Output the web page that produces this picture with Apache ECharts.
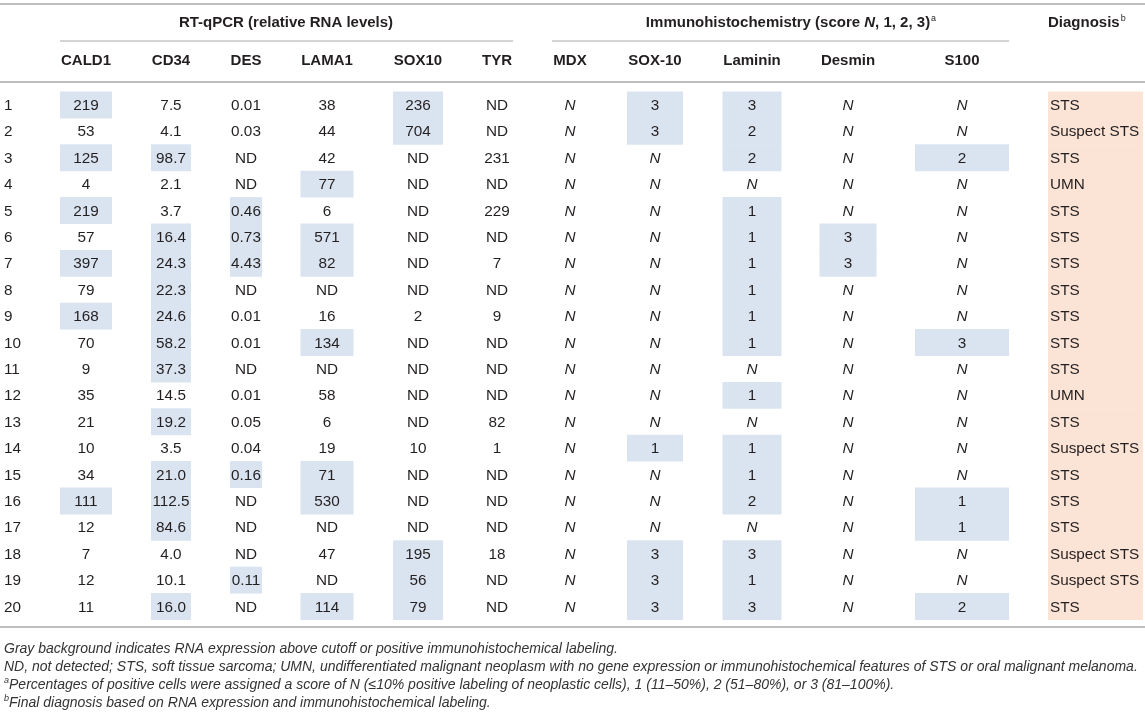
<!DOCTYPE html>
<html>
<head>
<meta charset="utf-8">
<title>RT-qPCR and immunohistochemistry table</title>
<script src="https://cdn.jsdelivr.net/npm/echarts@6/dist/echarts.min.js"></script>
<style>
  html, body { margin: 0; padding: 0; background: #fff; }
  #chart { width: 1145px; height: 717px; }
</style>
</head>
<body>
<div id="chart"></div>
<script>
// Case table: RNA levels, IHC scores and final diagnosis per case.

const cases   = ['1','2','3','4','5','6','7','8','9','10','11','12','13','14','15','16','17','18','19','20'];
const cald1   = ['219','53','125','4','219','57','397','79','168','70','9','35','21','10','34','111','12','7','12','11'];
const cd34    = ['7.5','4.1','98.7','2.1','3.7','16.4','24.3','22.3','24.6','58.2','37.3','14.5','19.2','3.5','21.0','112.5','84.6','4.0','10.1','16.0'];
const des     = ['0.01','0.03','ND','ND','0.46','0.73','4.43','ND','0.01','0.01','ND','0.01','0.05','0.04','0.16','ND','ND','ND','0.11','ND'];
const lama1   = ['38','44','42','77','6','571','82','ND','16','134','ND','58','6','19','71','530','ND','47','ND','114'];
const sox10   = ['236','704','ND','ND','ND','ND','ND','ND','2','ND','ND','ND','ND','10','ND','ND','ND','195','56','79'];
const tyr     = ['ND','ND','231','ND','229','ND','7','ND','9','ND','ND','ND','82','1','ND','ND','ND','18','ND','ND'];
const mdx     = ['N','N','N','N','N','N','N','N','N','N','N','N','N','N','N','N','N','N','N','N'];
const ihcSox  = ['3','3','N','N','N','N','N','N','N','N','N','N','N','1','N','N','N','3','3','3'];
const laminin = ['3','2','2','N','1','1','1','1','1','1','N','1','N','1','1','2','N','3','1','3'];
const desmin  = ['N','N','N','N','N','3','3','N','N','N','N','N','N','N','N','N','N','N','N','N'];
const s100    = ['N','N','2','N','N','N','N','N','N','3','N','N','N','N','N','1','1','N','N','2'];
const diagnosis = ['STS','Suspect STS','STS','UMN','STS','STS','STS','STS','STS','STS','STS','UMN','STS','Suspect STS','STS','STS','STS','Suspect STS','Suspect STS','STS'];

// cases with shaded (positive) cells, per column
const hiCald1   = [1, 3, 5, 7, 9, 16];
const hiCd34    = [3, 6, 7, 8, 9, 10, 11, 13, 15, 16, 17, 20];
const hiDes     = [5, 6, 7, 15, 19];
const hiLama1   = [4, 6, 7, 10, 15, 16, 20];
const hiSox10   = [1, 2, 18, 19, 20];
const hiIhcSox  = [1, 2, 14, 18, 19, 20];
const hiLaminin = [1, 2, 3, 5, 6, 7, 8, 9, 10, 12, 14, 15, 16, 18, 19, 20];
const hiDesmin  = [6, 7];
const hiS100    = [3, 10, 16, 17, 20];

const headers = ['', 'CALD1', 'CD34', 'DES', 'LAMA1', 'SOX10', 'TYR', 'MDX', 'SOX-10', 'Laminin', 'Desmin', 'S100', ''];

const columns = [
    { values: cases, hi: [] },
    { values: cald1, hi: hiCald1 },
    { values: cd34, hi: hiCd34 },
    { values: des, hi: hiDes },
    { values: lama1, hi: hiLama1 },
    { values: sox10, hi: hiSox10 },
    { values: tyr, hi: [] },
    { values: mdx, hi: [] },
    { values: ihcSox, hi: hiIhcSox },
    { values: laminin, hi: hiLaminin },
    { values: desmin, hi: hiDesmin },
    { values: s100, hi: hiS100 },
    { values: diagnosis, hi: cases.map(Number) }
];

// layout (pixels along the x value axis)
const colX = [4, 86, 171, 246, 327, 418, 497, 570, 655, 752, 848, 962, 1050];
const boxW = [0, 52, 40, 32, 53, 50, 40, 40, 56, 59, 57, 94, 95];
const leftAligned = [0, 12];
const ihcCols = [7, 8, 9, 10, 11];

const FONT = '"Liberation Sans", Arial, Helvetica, sans-serif';
const TEXT = '#231f20';
const RULE = '#a9a9a9';
const BLUE = '#dae4f0';
const PEACH = '#fbe4d6';

const dom = document.getElementById('chart');
const chart = echarts.init(dom, null, { renderer: 'canvas' });

const cellData = [];
columns.forEach((col, c) => col.values.forEach((v, r) => cellData.push([c, r])));

function renderCell(params, api) {
    const c = api.value(0);
    const r = api.value(1);
    const col = columns[c];
    const text = col.values[r];
    const p = api.coord([colX[c], r]);
    const h = api.size([0, 1])[1];
    const left = leftAligned.indexOf(c) >= 0;
    const children = [];
    if (col.hi.indexOf(r + 1) >= 0) {
        const x0 = left ? p[0] - 2 : p[0] - boxW[c] / 2;
        children.push({
            type: 'rect',
            shape: { x: x0, y: p[1] - h / 2, width: boxW[c], height: h + 0.5 },
            style: { fill: c === 12 ? PEACH : BLUE }
        });
    }
    const italic = ihcCols.indexOf(c) >= 0 && text === 'N';
    children.push({
        type: 'text',
        x: p[0],
        y: p[1] + 1,
        style: {
            text: text,
            fill: TEXT,
            fontFamily: FONT,
            fontSize: 15.3,
            fontStyle: italic ? 'italic' : 'normal',
            align: left ? 'left' : 'center',
            verticalAlign: 'middle'
        }
    });
    return { type: 'group', children: children };
}

function hLine(x1, x2, y, w) {
    return { type: 'line', silent: true, shape: { x1: x1, y1: y, x2: x2, y2: y },
             style: { stroke: RULE, lineWidth: w || 1 } };
}

function txt(x, y, text, rich, align) {
    return { type: 'text', silent: true, x: x, y: y,
             style: { text: text, rich: rich, align: align || 'left', verticalAlign: 'middle',
                      fill: TEXT, fontFamily: FONT, fontSize: 15 } };
}

const headRich = {
    b:   { fontFamily: FONT, fontSize: 15, fontWeight: 'bold', fill: TEXT, lineHeight: 18 },
    bi:  { fontFamily: FONT, fontSize: 15, fontWeight: 'bold', fontStyle: 'italic', fill: TEXT, lineHeight: 18 },
    sup: { fontFamily: FONT, fontSize: 9, fill: TEXT, lineHeight: 18, verticalAlign: 'top', padding: [0, 0, 0, 1] }
};
const noteRich = {
    t:   { fontFamily: FONT, fontSize: 14, fontStyle: 'italic', fill: '#333', lineHeight: 18 },
    sup: { fontFamily: FONT, fontSize: 9, fontStyle: 'italic', fill: '#333', lineHeight: 18, verticalAlign: 'top' }
};

const graphics = [
    hLine(0, 1145, 4, 1.5),
    hLine(60, 513, 41),
    hLine(552, 1009, 41),
    hLine(0, 1145, 82, 1.5),
    hLine(0, 1145, 627, 1.5),
    txt(286, 23, '{b|RT-qPCR (relative RNA levels)}', headRich, 'center'),
    txt(791, 23, '{b|Immunohistochemistry (score }{bi|N}{b|, 1, 2, 3)}{sup|a}', headRich, 'center'),
    txt(1048, 23, '{b|Diagnosis}{sup|b}', headRich, 'left'),
    txt(4, 649, '{t|Gray background indicates RNA expression above cutoff or positive immunohistochemical labeling.}', noteRich),
    txt(4, 667, '{t|ND, not detected; STS, soft tissue sarcoma; UMN, undifferentiated malignant neoplasm with no gene expression or immunohistochemical features of STS or oral malignant melanoma.}', noteRich),
    txt(4, 685, '{sup|a}{t|Percentages of positive cells were assigned a score of N (≤10% positive labeling of neoplastic cells), 1 (11–50%), 2 (51–80%), or 3 (81–100%).}', noteRich),
    txt(4, 703, '{sup|b}{t|Final diagnosis based on RNA expression and immunohistochemical labeling.}', noteRich)
];
headers.forEach((hd, i) => {
    if (hd) graphics.push(txt(colX[i], 61, '{b|' + hd + '}', headRich, 'center'));
});

chart.setOption({
    animation: false,
    grid: { left: 0, right: 0, top: 91.5, height: 528 },
    xAxis: { type: 'value', min: 0, max: 1145, show: false },
    yAxis: { type: 'category', data: cases, inverse: true, show: false },
    graphic: graphics,
    series: [{
        type: 'custom',
        renderItem: renderCell,
        data: cellData,
        encode: { x: 0, y: 1 },
        silent: true
    }]
});

window.addEventListener('resize', () => chart.resize());
</script>
</body>
</html>
